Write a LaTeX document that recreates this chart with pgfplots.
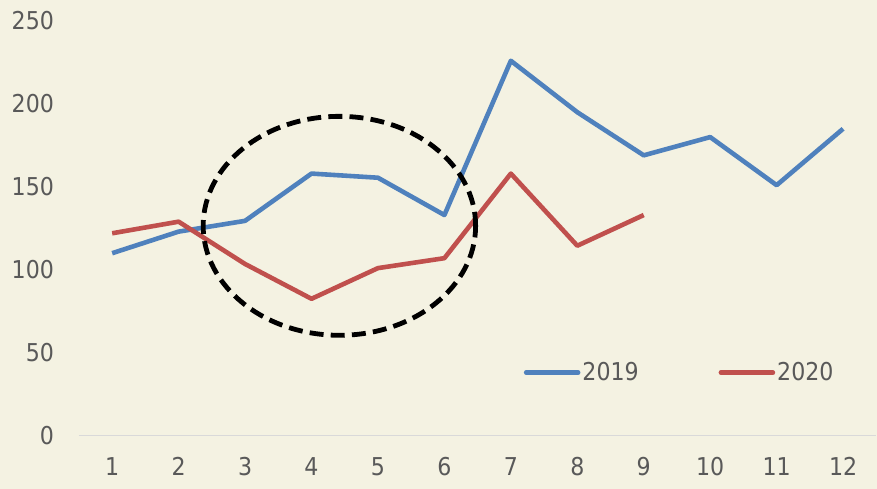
\documentclass[border=0pt]{standalone}
\usepackage{pgfplots}
\pgfplotsset{compat=1.18}
\usepackage{fontspec}
\setmainfont{DejaVu Sans Condensed}
\usetikzlibrary{backgrounds}
\definecolor{bgcream}{HTML}{F4F2E2}
\definecolor{blue19}{HTML}{4F81BD}
\definecolor{red20}{HTML}{C0504D}
\definecolor{labelgray}{HTML}{595959}
\definecolor{axisgray}{HTML}{D9D9D9}

\begin{document}
\begin{tikzpicture}
  \begin{axis}[
    width=399pt, height=207.5pt,
    scale only axis,
    xmin=0.5, xmax=12.5, ymin=0, ymax=250,
    xtick={1,...,12}, ytick={0,50,...,250},
    axis x line=bottom, axis y line=left,
    x axis line style={draw=axisgray, line width=0.7pt, -},
    y axis line style={draw=none},
    major tick length=0pt,
    clip=false,
    font=\fontsize{12.3}{14}\selectfont,
    tick label style={text=labelgray},
    /pgf/number format/assume math mode=true,
    yticklabel style={xshift=-9pt},
    xticklabel style={yshift=-7.5pt},
    legend style={at={(rel axis cs:0.55,0.152)}, anchor=west, draw=none, fill=none,
      text=labelgray, legend columns=2,
      /tikz/every even column/.append style={column sep=39pt},
      nodes={inner sep=1pt}},
    legend image code/.code={\draw[#1, line cap=round] (0pt,0pt) -- (26pt,0pt);},
  ]
  \path (rel axis cs:-0.099,-0.1277) rectangle (rel axis cs:1.0,1.0506);

  \addplot[blue19, line width=2.3pt, line join=round] coordinates {
    (1,110) (2,123) (3,129.5) (4,158) (5,155.5) (6,133)
    (7,226) (8,195) (9,169) (10,180) (11,151) (12,185)
  };
  \addlegendentry{2019}

  \addplot[red20, line width=2.3pt, line join=round] coordinates {
    (1,122) (2,129) (3,103.5) (4,82.5) (5,101) (6,107)
    (7,158) (8,114.5) (9,133)
  };
  \addlegendentry{2020}

  \draw[black, line width=2.4pt, dash pattern=on 7pt off 3.6pt]
    (axis cs:4.42,126.5) ellipse [x radius=2.05, y radius=66];
  \end{axis}
  \begin{pgfonlayer}{background}
    \fill[bgcream] (current bounding box.south west) rectangle (current bounding box.north east);
  \end{pgfonlayer}
\end{tikzpicture}
\end{document}
